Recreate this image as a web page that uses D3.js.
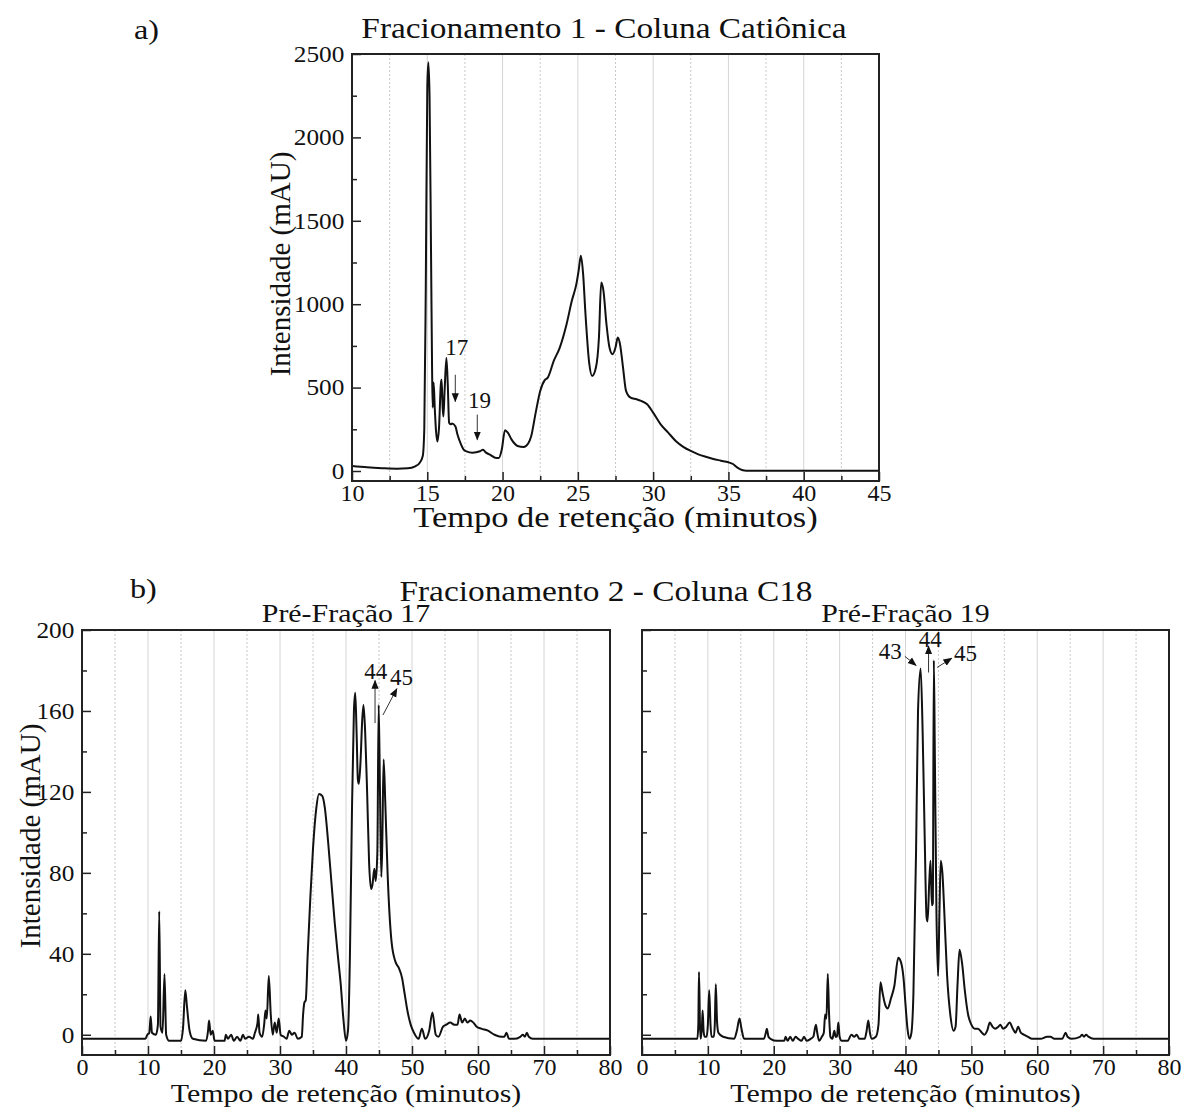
<!DOCTYPE html>
<html lang="pt">
<head>
<meta charset="UTF-8">
<title>Fracionamento - Cromatogramas</title>
<script src="https://cdnjs.cloudflare.com/ajax/libs/d3/7.8.5/d3.min.js"></script>
<style>
  body { margin: 0; background: #fff; }
  #chart text { font-family: "Liberation Serif", "DejaVu Serif", "Times New Roman", serif; fill: #111; }
</style>
</head>
<body>
<svg id="chart" width="1184" height="1109"></svg>
<script>
// Fracionamento 1 - Coluna Catiônica (tempo em minutos, intensidade em mAU)
const frac1Time = [10, 11, 12, 13, 13.7, 14.2, 14.5, 14.7, 14.8, 14.9, 15.0, 15.07, 15.15, 15.25, 15.32, 15.36, 15.42, 15.5, 15.58, 15.67,
  15.78, 15.9, 15.95, 16.02, 16.07, 16.15, 16.27, 16.36, 16.45, 16.55, 16.65, 16.87, 17.0, 17.2, 17.4, 17.6, 18.0, 18.5, 18.7, 18.9,
  19.16, 19.5, 19.75, 19.95, 20.16, 20.35, 20.6, 21.0, 21.4, 21.7, 21.9, 22.2, 22.5, 22.8, 23.0, 23.4, 23.8, 24.25, 24.6, 24.9,
  25.05, 25.2, 25.35, 25.5, 25.75, 25.95, 26.2, 26.4, 26.55, 26.7, 26.9, 27.1, 27.3, 27.5, 27.65, 27.8, 28.0, 28.2, 28.5, 28.9,
  29.2, 29.6, 30.0, 30.5, 31.0, 31.5, 32.0, 32.5, 33.0, 33.5, 34.0, 34.5, 35.0, 35.3, 35.6, 35.9, 36.2, 40, 45];
const frac1Int = [30, 22, 17, 14, 16, 28, 50, 90, 250, 1100, 2300, 2450, 2250, 1300, 600, 380, 530, 370, 240, 177,
  260, 520, 547, 380, 327, 480, 677, 520, 289, 280, 285, 267, 220, 168, 130, 118, 110, 118, 128, 110,
  98, 80, 78, 130, 245, 230, 188, 150, 144, 165, 208, 350, 480, 545, 560, 660, 740, 880, 1020, 1120,
  1200, 1290, 1180, 950, 650, 570, 620, 800, 1130, 1080, 880, 740, 700, 740, 800, 760, 620, 480, 440, 430,
  420, 400, 350, 280, 230, 180, 145, 120, 100, 85, 72, 62, 52, 42, 20, 6, 2, 2, 2];

// Fracionamento 2 - Coluna C18, Pré-Fração 17
const pf17Time = [0, 5, 9.6, 9.9, 10.2, 10.4, 10.6, 11.2, 11.5, 11.7, 11.9, 12.2, 12.5, 12.75, 13.2, 15, 15.3, 15.65, 15.9, 16.3,
  16.8, 18.8, 19.1, 19.25, 19.5, 19.8, 20.1, 21.6, 21.8, 22.1, 22.6, 23.0, 23.5, 24.0, 24.4, 24.7, 25.3, 25.9, 26.2, 26.6,
  26.7, 26.9, 27.3, 27.6, 27.8, 28.0, 28.3, 28.6, 28.9, 29.2, 29.5, 29.8, 30.1, 30.6, 31.0, 31.4, 31.8, 32.2, 32.7, 33.3,
  33.5, 33.7, 33.9, 34.2, 34.6, 35.0, 35.5, 35.9, 36.4, 36.8, 37.3, 37.8, 38.3, 38.8, 39.2, 39.6, 40.0, 40.3, 40.6, 40.9,
  41.2, 41.4, 41.6, 41.8, 41.95, 42.2, 42.45, 42.65, 42.9, 43.2, 43.5, 43.8, 44.0, 44.3, 44.5, 44.75, 44.95, 45.15, 45.35, 45.5,
  45.7, 45.95, 46.3, 46.9, 47.5, 48.0, 48.5, 48.8, 49.3, 49.8, 50.3, 51.0, 51.5, 52.0, 52.6, 53.1, 53.6, 54.0, 54.7, 55.2,
  55.8, 56.4, 56.9, 57.2, 57.6, 58.0, 58.4, 58.8, 59.3, 59.8, 60.5, 61.5, 62.5, 63.5, 64.0, 64.3, 64.7, 65.5, 66.4, 66.8,
  67.1, 67.4, 67.7, 68.3, 72, 80];
const pf17Int = [-2, -2, -2, 0, 1, 9, 1, 0, 5, 61, 4, 1, 30, 0, -3, -3, 3, 22, 14, 2,
  -2, -3, 2, 7, 0, 2, -3, -3, 0, -2, 0, -3, -1, -3, 0, -2, -1, -2, 1, 6,
  10, 1, -1, 5, 12, 8, 29, 10, 0, 6, 1, 8, 0, -1, -2, 2, 0, 1, -2, -1,
  10, 16, 17, 40, 68, 92, 112, 119, 118, 112, 95, 75, 55, 38, 25, 8, -3, 2, 40, 110,
  160, 169, 150, 126, 124, 135, 155, 163, 150, 120, 85, 72, 74, 82, 76, 90, 163, 120, 78, 95,
  136, 115, 80, 46, 36, 33, 28, 22, 12, 5, 1, -2, 3, -2, 2, 11, 0, -1, 4, 5,
  6, 5, 5, 10, 6, 8, 6, 7, 6, 4, 3, 2, 0, -1, -1, 1, -2, -2, -1, 0,
  -1, 1, -1, -2, -2, -2];

// Fracionamento 2 - Coluna C18, Pré-Fração 19
const pf19Time = [0, 8.4, 8.55, 8.65, 8.8, 8.9, 9.1, 9.2, 9.35, 9.5, 9.8, 10.0, 10.2, 10.4, 10.55, 10.9, 11.05, 11.2, 11.4, 11.6,
  12.3, 14.0, 14.4, 14.8, 15.1, 15.5, 18.5, 18.8, 18.95, 19.2, 19.5, 20.5, 21.6, 21.8, 22.1, 22.5, 22.9, 23.3, 23.7, 24.2,
  24.6, 25.0, 25.6, 26.0, 26.4, 26.6, 26.9, 27.3, 27.6, 27.8, 28.0, 28.2, 28.4, 28.6, 28.9, 29.2, 29.4, 29.6, 29.8, 30.0,
  30.3, 31.2, 31.8, 32.2, 32.6, 33.0, 33.8, 34.1, 34.35, 34.6, 34.9, 35.5, 35.9, 36.2, 36.5, 36.9, 37.3, 37.8, 38.3, 38.9,
  39.3, 39.7, 40.0, 40.3, 40.6, 40.9, 41.2, 41.6, 41.9, 42.3, 42.6, 42.9, 43.2, 43.35, 43.6, 43.8, 44.0, 44.15, 44.3, 44.45,
  44.7, 44.95, 45.15, 45.35, 45.6, 45.9, 46.3, 46.8, 47.3, 47.6, 47.9, 48.2, 48.6, 49.0, 49.5, 50.0, 50.5, 51.0, 51.6, 52.0,
  52.4, 52.8, 53.2, 53.6, 54.1, 54.4, 54.8, 55.3, 55.8, 56.3, 56.7, 57.1, 57.5, 58.0, 58.6, 59.2, 60.5, 61.5, 62.0, 62.6,
  63.8, 64.3, 64.6, 65.2, 66.5, 66.8, 67.1, 67.4, 67.8, 68.5, 80];
const pf19Int = [-2, -2, 5, 31, 5, -2, 4, 12, 2, -1, -1, 5, 22, 5, -1, -1, 5, 25, 6, 1,
  -1, -2, 2, 8, 3, -2, -2, 1, 3, -1, -2, -3, -3, -1, -3, -1, -3, -1, -2, -3,
  -1, -3, -2, -1, 5, 1, -3, -1, 1, 10, 8, 30, 10, -1, -2, 2, -1, -1, 6, -1,
  -3, -3, 0, -1, 0, -2, -2, 2, 7, 1, -2, -1, 5, 26, 21, 15, 13, 18, 24, 38,
  36, 28, 15, 3, -2, 1, 20, 90, 160, 181, 150, 100, 58, 56, 75, 86, 64, 65, 185, 140,
  60, 29, 60, 86, 80, 60, 30, 10, 2, 4, 25, 42, 35, 22, 10, 5, 3, 3, 1, 0,
  2, 6, 4, 3, 4, 5, 3, 4, 6, 3, 1, 4, 1, 0, -1, -2, -2, -1, -1, -2,
  -2, 1, -1, -2, -1, 0, -1, 0, -1, -2, -2];

// eixos e marcas
const xMajor1 = [10, 15, 20, 25, 30, 35, 40, 45];
const xMinor1 = [12.5, 17.5, 22.5, 27.5, 32.5, 37.5, 42.5];
const yMajor1 = [0, 500, 1000, 1500, 2000, 2500];
const yMinor1 = [250, 750, 1250, 1750, 2250];
const xMajor2 = [0, 10, 20, 30, 40, 50, 60, 70, 80];
const xMinor2 = [5, 15, 25, 35, 45, 55, 65, 75];
const yMajor2 = [0, 40, 80, 120, 160, 200];
const yMinor2 = [20, 60, 100, 140, 180];

// anotações (texto, tempo, intensidade)
const labels1 = [["17", 16.95, 697], ["19", 18.47, 378]];
const arrows1 = [[16.86, 577, 16.86, 417], [18.32, 338, 18.32, 188]];
const labels17 = [["44", 44.5, 176], ["45", 48.4, 173]];
const arrows17 = [[44.4, 154, 44.4, 175], [45.6, 158, 47.7, 171]];
const labels19 = [["43", 37.7, 185.5], ["44", 43.75, 191.5], ["45", 49.1, 184.8]];
const arrows19 = [[39.9, 187, 41.6, 182.5], [43.5, 179, 43.5, 192], [44.8, 181.5, 47.0, 186]];

const FONT = '"Liberation Serif", "DejaVu Serif", "Times New Roman", serif';
const WIDEN = 1.15;   // the original lettering is a bit wider than Times
const svg = d3.select("#chart").attr("font-family", FONT);

svg.append("defs").append("marker")
    .attr("id", "head")
    .attr("viewBox", "0 0 10 10")
    .attr("refX", 9).attr("refY", 5)
    .attr("markerWidth", 9).attr("markerHeight", 9)
    .attr("markerUnits", "userSpaceOnUse")
    .attr("orient", "auto")
  .append("path")
    .attr("d", "M0,1 L10,5 L0,9 Z")
    .attr("fill", "#111");

// horizontal text, stretched a little in x like the source figure
function wideText(parent, x, y, size, str, anchor) {
    return parent.append("text")
        .attr("transform", `translate(${x},${y}) scale(${WIDEN},1)`)
        .attr("text-anchor", anchor || "middle")
        .attr("font-size", size)
        .text(str);
}

function drawPanel(o) {
    const x = d3.scaleLinear().domain(o.xDomain).range([o.left, o.right]);
    const y = d3.scaleLinear().domain(o.yDomain).range([o.bottom, o.top]);
    const g = svg.append("g");

    // grade vertical
    g.selectAll(".gmaj")
        .data(o.xMajor.filter(d => d > o.xDomain[0] && d < o.xDomain[1]))
        .join("line")
        .attr("x1", d => x(d)).attr("x2", d => x(d))
        .attr("y1", o.top).attr("y2", o.bottom)
        .attr("stroke", "#d4d4d4").attr("stroke-width", 1);
    g.selectAll(".gmin")
        .data(o.xMinor)
        .join("line")
        .attr("x1", d => x(d)).attr("x2", d => x(d))
        .attr("y1", o.top).attr("y2", o.bottom)
        .attr("stroke", "#c8c8c8").attr("stroke-width", 1)
        .attr("stroke-dasharray", "2,2");

    // cromatograma
    const pts = o.time.map((t, i) => [t, o.value[i]]);
    const line = d3.line()
        .x(d => x(d[0]))
        .y(d => y(d[1]))
        .curve(d3.curveMonotoneX);
    g.append("path")
        .datum(pts)
        .attr("d", line)
        .attr("fill", "none")
        .attr("stroke", "#111")
        .attr("stroke-width", 2)
        .attr("stroke-linejoin", "round");

    // eixos com marcas para dentro
    const xAx = g.append("g").attr("transform", `translate(0,${o.bottom})`)
        .call(d3.axisBottom(x).tickValues(o.xMajor).tickSize(-9).tickPadding(3).tickFormat(d3.format("d")));
    g.append("g").attr("transform", `translate(0,${o.bottom})`)
        .call(d3.axisBottom(x).tickValues(o.xMinor).tickSize(-5).tickFormat(""));
    const yAx = g.append("g").attr("transform", `translate(${o.left},0)`)
        .call(d3.axisLeft(y).tickValues(o.yMajor).tickSize(-9).tickPadding(7)
            .tickFormat(o.yLabels ? d3.format("d") : ""));
    g.append("g").attr("transform", `translate(${o.left},0)`)
        .call(d3.axisLeft(y).tickValues(o.yMinor).tickSize(-5).tickFormat(""));
    g.selectAll(".domain").remove();
    g.selectAll("g").attr("font-family", FONT);
    g.selectAll(".tick line").attr("stroke", "#222").attr("stroke-width", 1.5);
    xAx.selectAll("text").attr("font-size", 24).attr("fill", "#111");
    yAx.selectAll("text").attr("font-size", 23).attr("fill", "#111")
        .attr("transform", "scale(1.1,1)");

    // moldura
    g.append("rect")
        .attr("x", o.left).attr("y", o.top)
        .attr("width", o.right - o.left).attr("height", o.bottom - o.top)
        .attr("fill", "none").attr("stroke", "#222").attr("stroke-width", 2);

    // setas e rótulos
    g.selectAll(".arrow").data(o.arrows).join("line")
        .attr("x1", d => x(d[0])).attr("y1", d => y(d[1]))
        .attr("x2", d => x(d[2])).attr("y2", d => y(d[3]))
        .attr("stroke", "#333").attr("stroke-width", 1)
        .attr("marker-end", "url(#head)");
    g.selectAll(".lbl").data(o.labels).join("text")
        .attr("x", d => x(d[1])).attr("y", d => y(d[2]))
        .attr("text-anchor", "middle")
        .attr("font-size", 23)
        .text(d => d[0]);

    // títulos
    wideText(g, (o.left + o.right) / 2, o.xTitleY, o.xTitleSize, "Tempo de retenção (minutos)");
    if (o.yTitleX) {
        g.append("text")
            .attr("transform", `translate(${o.yTitleX},${o.yTitleY}) rotate(-90)`)
            .attr("text-anchor", "middle").attr("font-size", 29)
            .text("Intensidade (mAU)");
    }
    if (o.subtitle) {
        wideText(g, (o.left + o.right) / 2, o.top - 8, 26, o.subtitle);
    }
}

drawPanel({
    left: 352, right: 879, top: 54, bottom: 481,
    xDomain: [10, 45], yDomain: [-60, 2500],
    xMajor: xMajor1, xMinor: xMinor1, yMajor: yMajor1, yMinor: yMinor1, yLabels: true,
    time: frac1Time, value: frac1Int,
    labels: labels1, arrows: arrows1,
    xTitleY: 527, xTitleSize: 30, yTitleX: 290, yTitleY: 264
});
drawPanel({
    left: 82, right: 610, top: 630, bottom: 1055,
    xDomain: [0, 80], yDomain: [-10, 200],
    xMajor: xMajor2, xMinor: xMinor2, yMajor: yMajor2, yMinor: yMinor2, yLabels: true,
    time: pf17Time, value: pf17Int,
    labels: labels17, arrows: arrows17,
    xTitleY: 1102, xTitleSize: 26, yTitleX: 40, yTitleY: 836,
    subtitle: "Pré-Fração 17"
});
drawPanel({
    left: 642, right: 1169, top: 630, bottom: 1055,
    xDomain: [0, 80], yDomain: [-10, 200],
    xMajor: xMajor2, xMinor: xMinor2, yMajor: yMajor2, yMinor: yMinor2, yLabels: false,
    time: pf19Time, value: pf19Int,
    labels: labels19, arrows: arrows19,
    xTitleY: 1102, xTitleSize: 26,
    subtitle: "Pré-Fração 19"
});

// títulos gerais
wideText(svg, 604, 38, 29, "Fracionamento 1 - Coluna Catiônica");
wideText(svg, 606, 601, 29, "Fracionamento 2 - Coluna C18");
wideText(svg, 134, 39, 28, "a)", "start");
wideText(svg, 130, 598, 28, "b)", "start");
</script>
</body>
</html>
